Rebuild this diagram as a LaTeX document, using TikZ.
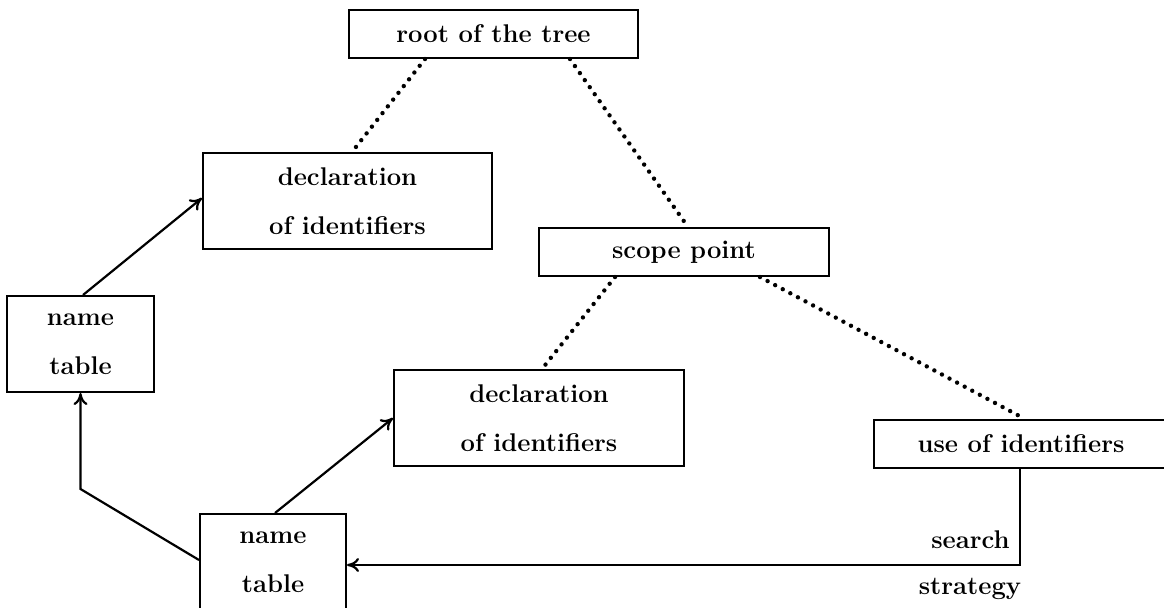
\documentclass[tikz,border=0pt]{standalone}
\usetikzlibrary{arrows.meta}
\begin{document}
\begin{tikzpicture}[x=0.5pt,y=-0.5pt,
  box/.style={draw,line width=1pt,inner sep=0pt,align=center,
    font=\bfseries\fontsize{12.8}{24.5}\selectfont},
  dots/.style={line width=2.2pt,line cap=round,dash pattern=on 0pt off 4.3pt},
  link/.style={line width=1.1pt,-{To[length=6pt,width=7pt]}},
  lbl/.style={inner sep=0pt,font=\bfseries\fontsize{12.8}{15}\selectfont}]
\clip (0,0) rectangle (1164,607);
\node[box,minimum width=144.5pt,minimum height=24pt] (root) at (493.5,34) {root of the tree};
\node[box,minimum width=144.5pt,minimum height=48pt] (decl1) at (347.5,201) {declaration\\of identifiers};
\node[box,minimum width=145pt,minimum height=24pt] (scope) at (684,252) {scope point};
\node[box,minimum width=73.5pt,minimum height=48pt] (nt1) at (80.5,344) {name\\table};
\node[box,minimum width=145pt,minimum height=48pt] (decl2) at (539,418) {declaration\\of identifiers};
\node[box,minimum width=147pt,minimum height=24pt] (use) at (1021,444) {use of identifiers};
\node[box,minimum width=73pt,minimum height=48.5pt] (nt2) at (273,562.5) {name\\table};
\node[lbl,anchor=east] (search) at (1010,540) {search};
\node[lbl] (strategy) at (970,589) {strategy};
\coordinate (c1) at (80.5,489);
\coordinate (c2) at (1020,565);
% dotted tree edges
\draw[dots] ([xshift=-34.25pt]root.south) -- ([xshift=2.25pt]decl1.north);
\draw[dots] ([xshift=38.25pt]root.south) -- ([xshift=2pt]scope.north);
\draw[dots] ([xshift=-34.5pt]scope.south) -- ([xshift=1.5pt]decl2.north);
\draw[dots] ([xshift=38pt]scope.south) -- ([xshift=2pt]use.north);
% solid arrows
\draw[link] ([xshift=1.25pt]nt1.north) -- ([yshift=1.5pt]decl1.west);
\draw[link] ([xshift=1pt]nt2.north) -- (decl2.west);
\draw[link] ([yshift=1.25pt]nt2.west) -- (c1) -- (nt1.south);
\draw[link] ([xshift=-0.5pt]use.south) -- (c2) -- (nt2.east |- c2);
\end{tikzpicture}
\end{document}
